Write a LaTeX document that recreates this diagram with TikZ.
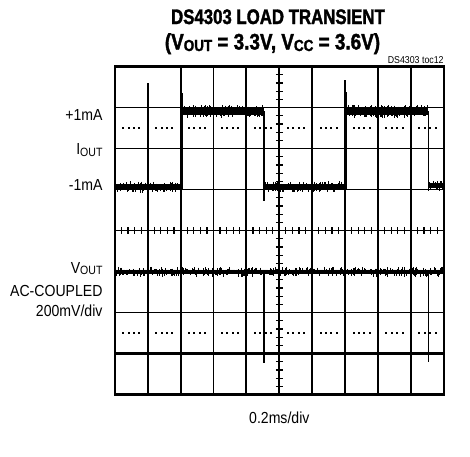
\documentclass[tikz,border=0pt]{standalone}
\usepackage{fontspec}
\setmainfont{Liberation Sans}[FakeStretch=0.88]
\newfontfamily\titlefont{Liberation Sans}[FakeStretch=0.84,FakeBold=1.6]
\newfontfamily\titlefontA{Liberation Sans}[FakeStretch=0.8,FakeBold=1.6]
\newcommand\subtxt[2]{\raisebox{-1.5pt}{\fontsize{#1}{#1}\selectfont #2}}
\newcommand\noisytrace[4]{%
  \fill (#1,#3-#4) rectangle (#2,#3+#4);
  \pgfmathtruncatemacro\nn{(#2-#1)/1.1}%
  \foreach \i in {0,...,\nn}{%
    \pgfmathsetmacro\xx{#1+\i*1.1}%
    \pgfmathsetmacro\ya{#3-#4-max(0,rand)*3}%
    \pgfmathsetmacro\yb{#3+#4+max(0,rand)*3}%
    \draw[line width=0.9pt] (\xx,\ya) -- (\xx,\yb);
  }%
}
\begin{document}
\begin{tikzpicture}[x=1pt,y=-1pt,
  gridline/.style={line width=1.9pt},
  frameline/.style={line width=2.5pt},
  refline/.style={line width=3.5pt},
  tickline/.style={line width=1.2pt},
  edge/.style={line width=2pt},
  thinedge/.style={line width=1.2pt},
  lbl/.style={font=\fontsize{16}{17}\selectfont, anchor=base east, inner sep=0pt},
  titletxt/.style={anchor=base, inner sep=0pt}]
\useasboundingbox (0,0) rectangle (470,456);
\def\L{114.8}\def\R{443.8}\def\T{66.5}\def\B{394.5}
\pgfmathsetseed{4303}
% titles
\node[titletxt, font=\titlefontA\bfseries\fontsize{21}{22}\selectfont] (title1) at (278,24) {DS4303 LOAD TRANSIENT};
\node[titletxt, font=\titlefont\bfseries\fontsize{22.5}{24}\selectfont] (title2) at (272.5,49.5) {(V\subtxt{16}{OUT} = 3.3V, V\subtxt{16}{CC} = 3.6V)};
\node[anchor=base east, inner sep=0pt, font=\fontsize{10}{10}\selectfont] (toc) at (443.8,63) {DS4303 toc12};
% grid
\foreach \k in {2,3,4,6,8,9} \draw[gridline] ({\L+\k*32.9},\T) -- ({\L+\k*32.9},\B);
\draw[gridline] ({\L+32.9},83) -- ({\L+32.9},\B);
\draw[gridline] ({\L+7*32.9},80) -- ({\L+7*32.9},\B);
\draw[gridline] (279.3,\T) -- (279.3,\B);
\foreach \r in {1,2,3,5,6} \draw[gridline] (\L,{\T+\r*41}) -- (\R,{\T+\r*41});
\draw[gridline] (\L,230.5) -- (\R,230.5);
\draw[refline] (\L,353.5) -- (\R,353.5);
% ticks
\foreach \j in {1,...,39} \draw[tickline] (275.9,{\T+\j*8.2}) -- (282.7,{\T+\j*8.2});
\foreach \j in {1,...,49} \draw[tickline] ({\L+\j*6.58},227) -- ({\L+\j*6.58},234);
% dotted lines
\foreach \k in {0,...,9} \foreach \d in {8.4,13.8,19.2,24.6} {
  \fill ({\L+\k*32.9+\d-1},127) rectangle ++(2,2);
  \fill ({\L+\k*32.9+\d-1},332) rectangle ++(2,2);
}
\draw[frameline] (\L,\T) rectangle (\R,\B);
% I_OUT trace
\noisytrace{115}{181.5}{187}{2.6}
\noisytrace{181.5}{264}{111.5}{3.5}
\noisytrace{264}{346}{187}{2.6}
\noisytrace{346}{428}{111.5}{3.5}
\noisytrace{428}{443}{185.5}{2.6}
\draw[edge] (181.5,93) -- (181.5,189);
\draw[thinedge] (264,111) -- (264,201);
\draw[edge] (345.8,92) -- (345.8,189);
\draw[thinedge] (428.2,111) -- (428.2,190);
% V_OUT trace
\noisytrace{115}{443}{271.8}{2.1}
\draw[thinedge] (264,273) -- (264,363);
\draw[thinedge] (428.2,273) -- (428.2,362);
% labels
\node[lbl] (p1) at (102.7,120.7) {+1mA};
\node[lbl] (iout) at (102.7,154.5) {I\subtxt{12}{OUT}};
\node[lbl] (m1) at (102.7,190.3) {-1mA};
\node[lbl] (vout) at (102.7,273.3) {V\subtxt{12}{OUT}};
\node[lbl] (ac) at (102.7,296.7) {AC-COUPLED};
\node[lbl] (mv) at (102.7,316.7) {200mV/div};
\node[lbl, anchor=base] (ms) at (279.3,423) {0.2ms/div};
\end{tikzpicture}
\end{document}
